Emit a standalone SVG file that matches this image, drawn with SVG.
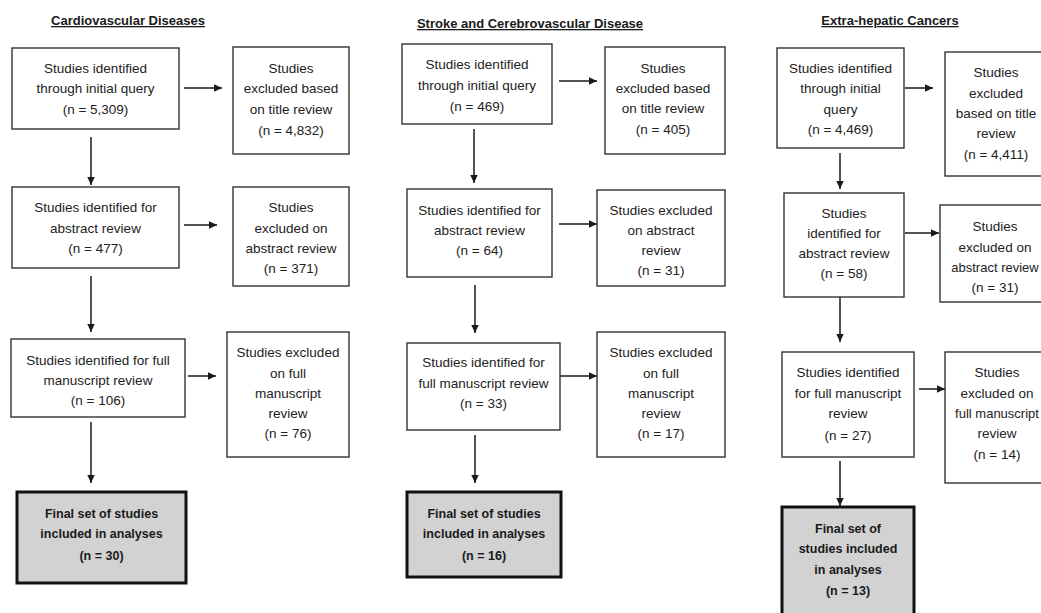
<svg xmlns="http://www.w3.org/2000/svg" width="1041" height="613" viewBox="0 0 1041 613">
<defs>
<marker id="ah" markerUnits="userSpaceOnUse" markerWidth="10" markerHeight="10" viewBox="0 0 10 10" refX="9" refY="5" orient="auto">
<path d="M1,1.3 L9,5 L1,8.7 Z" fill="#1a1a1a"/>
</marker>
<style>
.bx{fill:#fff;stroke:#333;stroke-width:1.4}
.fb{fill:#d2d2d2;stroke:#111;stroke-width:3}
.t{font-family:"Liberation Sans",Arial,sans-serif;font-size:13.5px;fill:#222;text-anchor:middle}
.b{font-family:"Liberation Sans",Arial,sans-serif;font-size:12.5px;font-weight:bold;fill:#1a1a1a;text-anchor:middle}
.h{font-family:"Liberation Sans",Arial,sans-serif;font-size:13px;font-weight:bold;fill:#1a1a1a;text-anchor:middle;text-decoration:underline}
.c{stroke:#1a1a1a;stroke-width:1.5;fill:none;marker-end:url(#ah)}
</style>
</defs>
<rect width="1041" height="613" fill="#fff"/>

<g id="titles">
<text class="h" x="128" y="25">Cardiovascular Diseases</text>
<text class="h" x="530" y="28">Stroke and Cerebrovascular Disease</text>
<text class="h" x="890" y="25">Extra-hepatic Cancers</text>
</g>

<g id="connectors">
<line class="c" x1="184" y1="88" x2="222" y2="88"/>
<line class="c" x1="184" y1="225" x2="217" y2="225"/>
<line class="c" x1="188" y1="376" x2="216" y2="376"/>
<line class="c" x1="91" y1="137" x2="91" y2="185"/>
<line class="c" x1="91" y1="276" x2="91" y2="332"/>
<line class="c" x1="91" y1="422" x2="91" y2="483"/>

<line class="c" x1="559" y1="81" x2="597" y2="81"/>
<line class="c" x1="559" y1="224" x2="597" y2="224"/>
<line class="c" x1="560" y1="376" x2="597" y2="376"/>
<line class="c" x1="474" y1="129" x2="474" y2="183"/>
<line class="c" x1="475" y1="285" x2="475" y2="333"/>
<line class="c" x1="475" y1="435" x2="475" y2="483"/>

<line class="c" x1="905" y1="88" x2="933" y2="88"/>
<line class="c" x1="905" y1="233" x2="939" y2="233"/>
<line class="c" x1="919" y1="389" x2="945" y2="389"/>
<line class="c" x1="840" y1="153" x2="840" y2="189"/>
<line class="c" x1="840" y1="297" x2="840" y2="342"/>
<line class="c" x1="840" y1="461" x2="840" y2="506"/>
</g>

<!-- Column 1 -->
<g id="cv-initial">
<rect class="bx" x="12" y="48" width="167" height="81"/>
<text class="t" x="95.5" y="73">Studies identified</text>
<text class="t" x="95.5" y="93">through initial query</text>
<text class="t" x="95.5" y="114">(n = 5,309)</text>
</g>
<g id="cv-excl-title">
<rect class="bx" x="233" y="47" width="116" height="107"/>
<text class="t" x="291" y="73">Studies</text>
<text class="t" x="291" y="93">excluded based</text>
<text class="t" x="291" y="114">on title review</text>
<text class="t" x="291" y="135">(n = 4,832)</text>
</g>
<g id="cv-abstract">
<rect class="bx" x="12" y="187" width="167" height="81"/>
<text class="t" x="95.5" y="212">Studies identified for</text>
<text class="t" x="95.5" y="233">abstract review</text>
<text class="t" x="95.5" y="253">(n = 477)</text>
</g>
<g id="cv-excl-abstract">
<rect class="bx" x="233" y="187" width="116" height="99"/>
<text class="t" x="291" y="212">Studies</text>
<text class="t" x="291" y="233">excluded on</text>
<text class="t" x="291" y="253">abstract review</text>
<text class="t" x="291" y="273">(n = 371)</text>
</g>
<g id="cv-full">
<rect class="bx" x="11" y="339" width="174" height="78"/>
<text class="t" x="98" y="365">Studies identified for full</text>
<text class="t" x="98" y="385">manuscript review</text>
<text class="t" x="98" y="405">(n = 106)</text>
</g>
<g id="cv-excl-full">
<rect class="bx" x="227" y="332" width="122" height="125"/>
<text class="t" x="288" y="357">Studies excluded</text>
<text class="t" x="288" y="378">on full</text>
<text class="t" x="288" y="398">manuscript</text>
<text class="t" x="288" y="418">review</text>
<text class="t" x="288" y="438">(n = 76)</text>
</g>
<g id="cv-final">
<rect class="fb" x="17" y="492" width="169" height="91"/>
<text class="b" x="101.5" y="518">Final set of studies</text>
<text class="b" x="101.5" y="538">included in analyses</text>
<text class="b" x="101.5" y="560">(n = 30)</text>
</g>

<!-- Column 2 -->
<g id="st-initial">
<rect class="bx" x="402" y="44" width="150" height="80"/>
<text class="t" x="477" y="69">Studies identified</text>
<text class="t" x="477" y="90">through initial query</text>
<text class="t" x="477" y="111">(n = 469)</text>
</g>
<g id="st-excl-title">
<rect class="bx" x="605" y="47" width="120" height="107"/>
<text class="t" x="663" y="73">Studies</text>
<text class="t" x="663" y="93">excluded based</text>
<text class="t" x="663" y="113">on title review</text>
<text class="t" x="663" y="134">(n = 405)</text>
</g>
<g id="st-abstract">
<rect class="bx" x="407" y="189" width="145" height="88"/>
<text class="t" x="479.5" y="215">Studies identified for</text>
<text class="t" x="479.5" y="235">abstract review</text>
<text class="t" x="479.5" y="255">(n = 64)</text>
</g>
<g id="st-excl-abstract">
<rect class="bx" x="597" y="190" width="128" height="96"/>
<text class="t" x="661" y="215">Studies excluded</text>
<text class="t" x="661" y="235">on abstract</text>
<text class="t" x="661" y="255">review</text>
<text class="t" x="661" y="275">(n = 31)</text>
</g>
<g id="st-full">
<rect class="bx" x="407" y="343" width="153" height="87"/>
<text class="t" x="483.5" y="367">Studies identified for</text>
<text class="t" x="483.5" y="388">full manuscript review</text>
<text class="t" x="483.5" y="408">(n = 33)</text>
</g>
<g id="st-excl-full">
<rect class="bx" x="597" y="332" width="128" height="125"/>
<text class="t" x="661" y="357">Studies excluded</text>
<text class="t" x="661" y="378">on full</text>
<text class="t" x="661" y="398">manuscript</text>
<text class="t" x="661" y="418">review</text>
<text class="t" x="661" y="438">(n = 17)</text>
</g>
<g id="st-final">
<rect class="fb" x="407" y="492" width="154" height="85"/>
<text class="b" x="484" y="518">Final set of studies</text>
<text class="b" x="484" y="538">included in analyses</text>
<text class="b" x="484" y="560">(n = 16)</text>
</g>

<!-- Column 3 -->
<g id="ca-initial">
<rect class="bx" x="777" y="48" width="127" height="100"/>
<text class="t" x="840.5" y="73">Studies identified</text>
<text class="t" x="840.5" y="93">through initial</text>
<text class="t" x="840.5" y="114">query</text>
<text class="t" x="840.5" y="134">(n = 4,469)</text>
</g>
<g id="ca-excl-title">
<rect class="bx" x="945" y="52" width="110" height="124"/>
<text class="t" x="996" y="77">Studies</text>
<text class="t" x="996" y="98">excluded</text>
<text class="t" x="996" y="118">based on title</text>
<text class="t" x="996" y="138">review</text>
<text class="t" x="996" y="159">(n = 4,411)</text>
</g>
<g id="ca-abstract">
<rect class="bx" x="784" y="193" width="120" height="104"/>
<text class="t" x="844" y="218">Studies</text>
<text class="t" x="844" y="238">identified for</text>
<text class="t" x="844" y="258">abstract review</text>
<text class="t" x="844" y="278">(n = 58)</text>
</g>
<g id="ca-excl-abstract">
<rect class="bx" x="940" y="205" width="116" height="97"/>
<text class="t" x="995" y="231">Studies</text>
<text class="t" x="995" y="252">excluded on</text>
<text class="t" x="995" y="272" style="font-size:13px">abstract review</text>
<text class="t" x="995" y="292">(n = 31)</text>
</g>
<g id="ca-full">
<rect class="bx" x="782" y="352" width="132" height="105"/>
<text class="t" x="848" y="377">Studies identified</text>
<text class="t" x="848" y="398">for full manuscript</text>
<text class="t" x="848" y="418">review</text>
<text class="t" x="848" y="440">(n = 27)</text>
</g>
<g id="ca-excl-full">
<rect class="bx" x="945" y="352" width="110" height="131"/>
<text class="t" x="997" y="377">Studies</text>
<text class="t" x="997" y="398">excluded on</text>
<text class="t" x="997" y="418" style="font-size:13px">full manuscript</text>
<text class="t" x="997" y="438">review</text>
<text class="t" x="997" y="459">(n = 14)</text>
</g>
<g id="ca-final">
<rect class="fb" x="782" y="507" width="132" height="112"/>
<text class="b" x="848" y="533">Final set of</text>
<text class="b" x="848" y="553">studies included</text>
<text class="b" x="848" y="574">in analyses</text>
<text class="b" x="848" y="595">(n = 13)</text>
</g>
</svg>
